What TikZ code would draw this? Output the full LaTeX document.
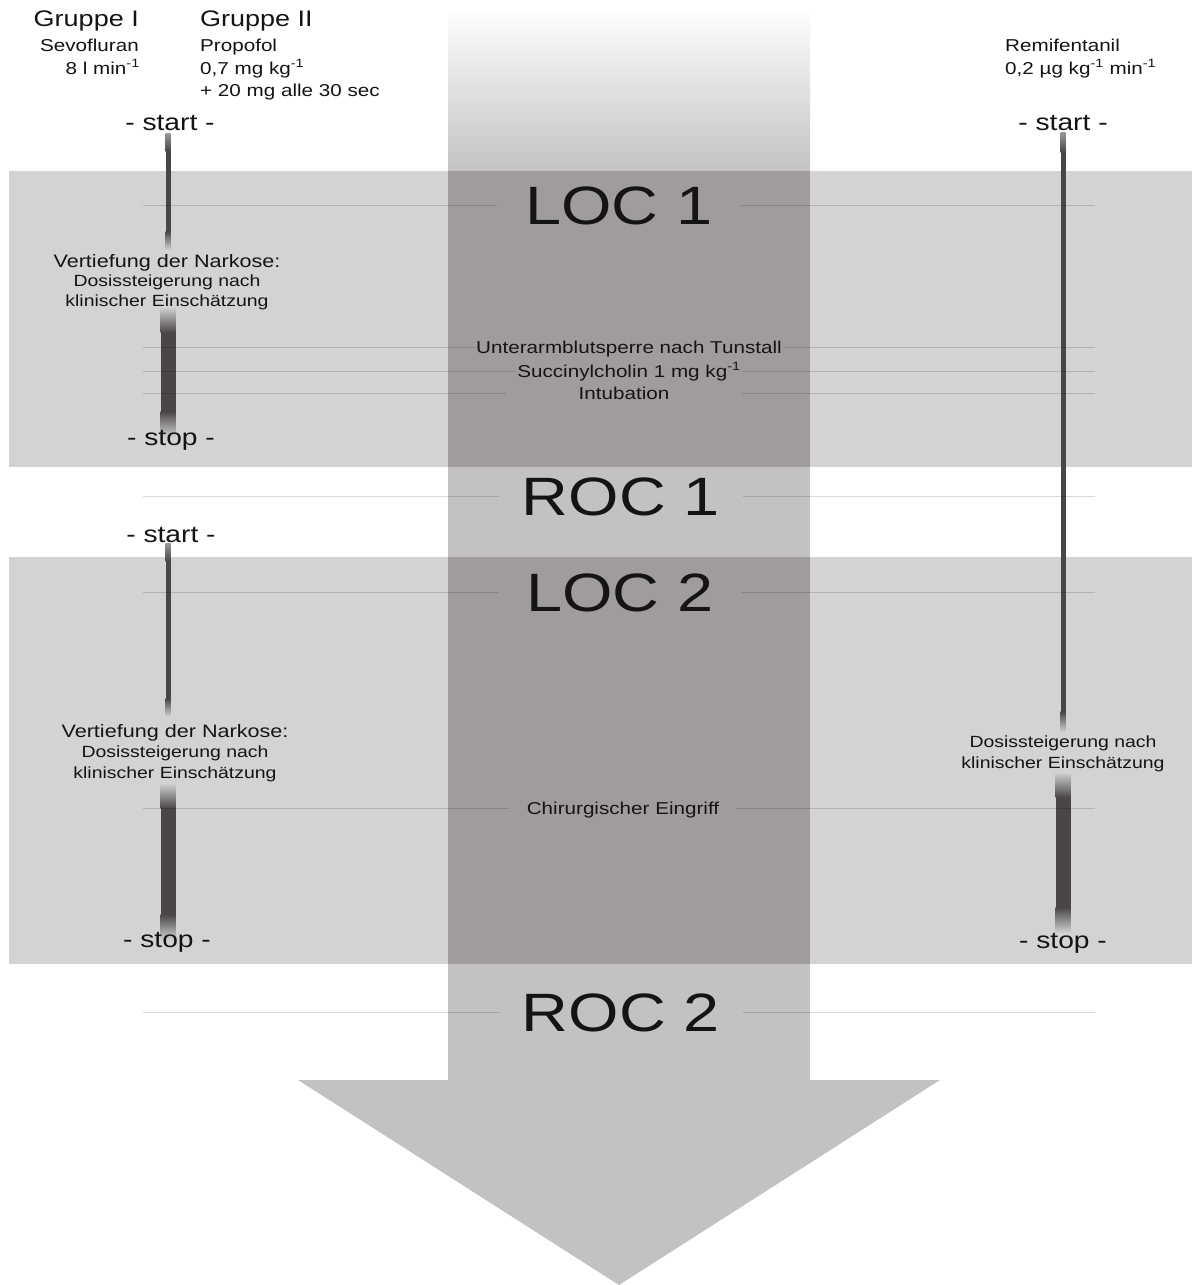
\documentclass[tikz,border=0pt]{standalone}
\usepackage{fontspec}
\setmainfont{Liberation Sans}[FakeStretch=1.2]
\usetikzlibrary{positioning}
\definecolor{bandgray}{HTML}{D3D3D3}
\definecolor{shaftgray}{HTML}{C4C1C1}
\definecolor{shaftdark}{HTML}{A09C9C}
\definecolor{bardark}{HTML}{4A4646}
\definecolor{barlight}{HTML}{9A9898}
\tikzset{
  band/.style={fill=bandgray},
  shaft/.style={fill=shaftgray},
  shaftin/.style={fill=shaftdark},
  rowline/.style={draw=black, opacity=0.15, line width=1pt},
  biglab/.style={font=\fontsize{54}{60}\selectfont, text height=38.7pt, text depth=0pt, inner sep=0pt, minimum width=244pt},
  rowlab/.style={font=\fontsize{17.2}{20}\selectfont, text height=12.3pt, text depth=0pt, inner sep=1.5pt},
  head/.style={font=\fontsize{22.5}{26}\selectfont, inner sep=0pt},
  lab/.style={font=\fontsize{17.2}{20}\selectfont, inner sep=0pt},
  notehead/.style={font=\fontsize{18}{21}\selectfont, inner sep=0pt},
  note/.style={font=\fontsize{16.2}{19}\selectfont, inner sep=0pt},
  startstop/.style={font=\fontsize{23.5}{27}\selectfont, inner sep=0pt}
}

\begin{document}
\begin{tikzpicture}[x=1pt,y=-1pt, every node/.append style={text=black!92}]
\useasboundingbox (0,0) rectangle (1192,1285);
\fill[white] (0,0) rectangle (1192,1285);

% Phases
\fill[band] (9,171) rectangle (1192,467);
\fill[band] (9,557) rectangle (1192,964);

% Time arrow
\shade[top color=white, middle color=shaftgray!40!white, bottom color=shaftgray] (448,8) rectangle (810,171.5);
\fill[shaftin] (448,171) rectangle (810,467);
\fill[shaft] (448,467) rectangle (810,557);
\fill[shaftin] (448,557) rectangle (810,964);
\fill[shaft] (448,964) rectangle (810,1081);
\fill[shaft] (298,1080) -- (940,1080) -- (619,1285) -- cycle;

% Dosing bars
\foreach \barx/\bartop/\barbot/\barw/\barf/\barc in {
  168/133/250/2.5/18/barlight,
  168/307/437/7.5/25/bandgray,
  168/543/717/2.5/18/barlight,
  168/783/940/7.5/25/bandgray,
  1063/132/732/2.5/20/barlight,
  1063/772/933/7.5/25/bandgray}{
  \shade[top color=\barc, bottom color=bardark] (\barx-\barw,\bartop) rectangle (\barx+\barw,\bartop+\barf+0.5);
  \fill[bardark] (\barx-\barw,\bartop+\barf) rectangle (\barx+\barw,\barbot-\barf);
  \shade[top color=bardark, bottom color=bandgray] (\barx-\barw,\barbot-\barf-0.5) rectangle (\barx+\barw,\barbot);
}

% Groups
\node[head, anchor=base east] (grpI) at (139,26) {Gruppe I};
\node[lab, anchor=base east] (sevo) at (139,51.5) {Sevofluran};
\node[lab, anchor=base east] (sevodose) at (140,74) {8 l min\textsuperscript{-1}};
\node[head, anchor=base west] (grpII) at (200,26) {Gruppe II};
\node[lab, anchor=base west] (propo) at (200,51.5) {Propofol};
\node[lab, anchor=base west] (propodose) at (200,74) {0,7 mg kg\textsuperscript{-1}};
\node[lab, anchor=base west] (propobolus) at (200,96.5) {+ 20 mg alle 30 sec};
\node[lab, anchor=base west] (remi) at (1005,51.5) {Remifentanil};
\node[lab, anchor=base west] (remidose) at (1005,74) {0,2 µg kg\textsuperscript{-1} min\textsuperscript{-1}};

% Start / stop and dose notes
\node[startstop, anchor=base] (startA) at (170,130) {- start -};
\node[startstop, anchor=base] (startR) at (1063,130) {- start -};
\node[notehead, anchor=base] (deepA) at (167,267) {Vertiefung der Narkose:};
\node[note, anchor=base] (doseA) at (167,286.5) {Dosissteigerung nach};
\node[note, anchor=base] (clinA) at (167,306) {klinischer Einschätzung};
\node[startstop, anchor=base] (stopA) at (171,445) {- stop -};
\node[startstop, anchor=base] (startB) at (171,542) {- start -};
\node[notehead, anchor=base] (deepB) at (175,737) {Vertiefung der Narkose:};
\node[note, anchor=base] (doseB) at (175,757) {Dosissteigerung nach};
\node[note, anchor=base] (clinB) at (175,778) {klinischer Einschätzung};
\node[note, anchor=base] (doseR) at (1063,747) {Dosissteigerung nach};
\node[note, anchor=base] (clinR) at (1063,768) {klinischer Einschätzung};
\node[startstop, anchor=base] (stopB) at (167,947) {- stop -};
\node[startstop, anchor=base] (stopR) at (1063,948) {- stop -};

% Events on the time arrow
\node[biglab] (loc1) at (619,205) {LOC 1};
\node[rowlab] (tourn) at (629,347) {Unterarmblutsperre nach Tunstall};
\node[rowlab] (succ) at (629,371) {Succinylcholin 1 mg kg\textsuperscript{-1}};
\node[rowlab, minimum width=235pt] (intub) at (624,393) {Intubation};
\node[biglab] (roc1) at (621,496) {ROC 1};
\node[biglab] (loc2) at (620,592) {LOC 2};
\node[rowlab, minimum width=227pt] (chir) at (623,808) {Chirurgischer Eingriff};
\node[biglab] (roc2) at (621,1012) {ROC 2};

\coordinate (lineL) at (143,0);
\coordinate (lineR) at (1095,0);
\foreach \row in {loc1,tourn,succ,intub,roc1,loc2,chir,roc2}{
  \draw[rowline] (lineL |- \row) -- (\row.west);
  \draw[rowline] (\row.east) -- (lineR |- \row);
}
\end{tikzpicture}
\end{document}
